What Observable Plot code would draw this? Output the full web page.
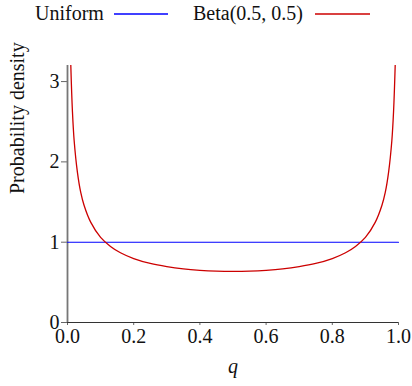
<!DOCTYPE html>
<html>
<head>
<meta charset="utf-8">
<script src="https://cdn.jsdelivr.net/npm/d3@7"></script>
<script src="https://cdn.jsdelivr.net/npm/@observablehq/plot@0.6"></script>
<style>
  body { margin: 0; background: #fff; font-family: "Liberation Serif", serif; }
  #legend { position: relative; width: 412px; height: 32px; font-size: 20px; color: #111; }
  #legend .t { position: absolute; top: 3px; line-height: 20px; white-space: nowrap; }
  #legend svg.l { position: absolute; top: 9px; }
  #chart svg { display: block; }
</style>
</head>
<body>
<div id="legend">
  <span class="t" style="left:35px">Uniform</span>
  <svg class="l" style="left:114px" width="54" height="10"><line x1="0" x2="54" y1="5" y2="5" stroke="#0000ff" stroke-width="1.3"/></svg>
  <span class="t" style="left:193px">Beta(0.5, 0.5)</span>
  <svg class="l" style="left:315px" width="55" height="10"><line x1="0" x2="55" y1="5" y2="5" stroke="#cc0000" stroke-width="1.3"/></svg>
</div>
<div id="chart"></div>
<script>
const seriesNames = ["Uniform", "Beta(0.5, 0.5)"];
const uniformQ = [0, 1];
const uniformDensity = [1, 1];
const betaQ = [0.003, 0.005, 0.008, 0.01, 0.015, 0.02, 0.03, 0.04, 0.05, 0.07, 0.1, 0.13, 0.16, 0.2, 0.25, 0.3, 0.35, 0.4, 0.45, 0.5,
               0.55, 0.6, 0.65, 0.7, 0.75, 0.8, 0.84, 0.87, 0.9, 0.93, 0.95, 0.96, 0.97, 0.98, 0.985, 0.99, 0.992, 0.995, 0.997];
const betaDensity = [5.82, 4.51, 3.57, 3.20, 2.62, 2.27, 1.87, 1.62, 1.46, 1.25, 1.06, 0.947, 0.868, 0.796, 0.735, 0.695, 0.667, 0.650, 0.640, 0.637,
                     0.640, 0.650, 0.667, 0.695, 0.735, 0.796, 0.868, 0.947, 1.06, 1.25, 1.46, 1.62, 1.87, 2.27, 2.62, 3.20, 3.57, 4.51, 5.82];
const xTicks = [0, 0.2, 0.4, 0.6, 0.8, 1.0];
const xTickLabels = ["0.0", "0.2", "0.4", "0.6", "0.8", "1.0"];
const yTicks = [0, 1, 2, 3];
const yTickLabels = ["0", "1", "2", "3"];

const uniformData = uniformQ.map((q, i) => ({q, d: uniformDensity[i]}));
const betaData = betaQ.map((q, i) => ({q, d: betaDensity[i]}));
const serif = "Liberation Serif";

const chart = Plot.plot({
  width: 412,
  height: 354,
  marginTop: 33,
  marginBottom: 64,
  marginLeft: 67,
  marginRight: 14,
  style: {background: "#fff", color: "#111"},
  x: {domain: [0, 1]},
  y: {domain: [0, 3.2]},
  marks: [
    Plot.axisX({ticks: xTicks, tickFormat: (d, i) => xTickLabels[i], tickSize: 3, tickPadding: 3, stroke: "#666", fill: "#111", fontSize: 20, fontFamily: serif, label: null}),
    Plot.axisY({ticks: yTicks, tickFormat: (d, i) => yTickLabels[i], tickSize: 6, tickPadding: 2, stroke: "#666", fill: "#111", fontSize: 20, fontFamily: serif, label: null}),
    Plot.ruleX([0], {stroke: "#777", strokeWidth: 1.8}),
    Plot.ruleY([0], {stroke: "#333", strokeWidth: 1.2}),
    Plot.line(uniformData, {x: "q", y: "d", stroke: "#0000ff", strokeWidth: 1.1}),
    Plot.line(betaData, {x: "q", y: "d", stroke: "#cc0000", strokeWidth: 1.3, curve: "catmull-rom", clip: true}),
    Plot.text(["Probability density"], {frameAnchor: "left", dx: -50, rotate: -90, text: d => d, fontSize: 20, fontFamily: serif, fill: "#111"}),
    Plot.text(["q"], {frameAnchor: "bottom", dy: 50, text: d => d, fontSize: 20, fontFamily: serif, fontStyle: "italic", fill: "#111"})
  ]
});
chart.querySelectorAll("style").forEach(s => s.remove());
chart.setAttribute("font-family", serif);
chart.querySelectorAll("[font-variant]").forEach(e => e.removeAttribute("font-variant"));
chart.querySelectorAll("[font-family]").forEach(e => e.setAttribute("font-family", serif));
chart.querySelectorAll("text").forEach(t => {
  t.setAttribute("font-family", serif);
  t.setAttribute("style", "font-family: 'Liberation Serif', 'Times New Roman', serif; white-space: pre;");
});
// re-parse the SVG from markup so it behaves like a static inline SVG
document.getElementById("chart").innerHTML = chart.outerHTML;
</script>
</body>
</html>
